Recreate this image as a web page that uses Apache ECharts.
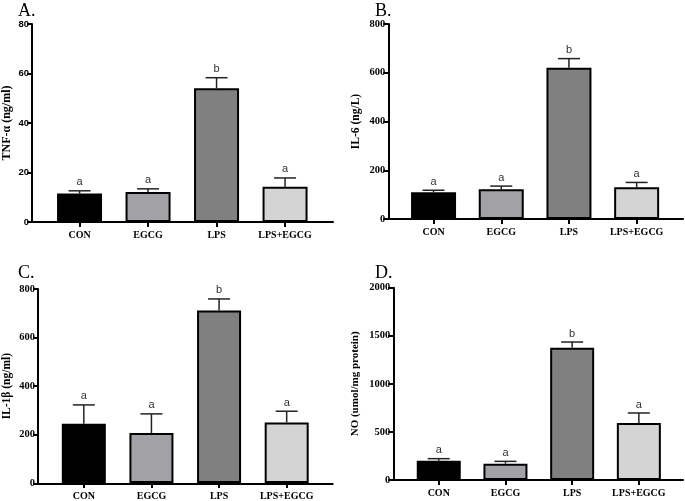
<!DOCTYPE html>
<html>
<head>
<meta charset="utf-8">
<script src="https://cdn.jsdelivr.net/npm/echarts@6/dist/echarts.min.js"></script>
<style>
html,body{margin:0;padding:0;background:#fff;}
#c{width:685px;height:501px;}
</style>
</head>
<body>
<div id="c"></div>
<script>
// ---- data ----
const categories = ['CON', 'EGCG', 'LPS', 'LPS+EGCG'];
const barColors = ['#000000', '#a2a2a6', '#808080', '#d4d4d4'];

const tnfMean = [11.5, 12.1, 54.0, 14.2];
const tnfErr = [1.1, 1.3, 4.3, 3.6];
const tnfLetters = ['a', 'a', 'b', 'a'];
const tnfTicks = { min: 0, max: 80, interval: 20 };

const il6Mean = [110, 122, 621, 130];
const il6Err = [8, 13, 37, 20];
const il6Letters = ['a', 'a', 'b', 'a'];
const il6Ticks = { min: 0, max: 800, interval: 200 };

const il1bMean = [244, 206, 711, 250];
const il1bErr = [78, 79, 48, 46];
const il1bLetters = ['a', 'a', 'b', 'a'];
const il1bTicks = { min: 0, max: 800, interval: 200 };

const noMean = [201, 170, 1376, 593];
const noErr = [21, 24, 59, 104];
const noLetters = ['a', 'a', 'b', 'a'];
const noTicks = { min: 0, max: 2000, interval: 500 };

const panelLabels = ['A.', 'B.', 'C.', 'D.'];
const yNames = ['TNF-\u03b1 (ng/ml)', 'IL-6 (ng/L)', 'IL-1\u03b2 (ng/ml)', 'NO (umol/mg protein)'];

// ---- layout (positions/styles) ----
const panels = [
  { mean: tnfMean, err: tnfErr, letters: tnfLetters, ticks: tnfTicks, name: yNames[0], label: panelLabels[0],
    axisX: 32, axisEnd: 333, top: 24, bottom: 222, bandLeft: 45.3, bandWidth: 274, barW: 45,
    tickFont: 'Liberation Sans', tickSize: 9.5, nameSize: 12, nameGap: 19, lx: 18, ly: 9 },
  { mean: il6Mean, err: il6Err, letters: il6Letters, ticks: il6Ticks, name: yNames[1], label: panelLabels[1],
    axisX: 388.3, axisEnd: 683, top: 24, bottom: 219, bandLeft: 399.7, bandWidth: 270.8, barW: 45,
    tickFont: 'Liberation Serif', tickSize: 10.5, nameSize: 11.5, nameGap: 26, lx: 375, ly: 9 },
  { mean: il1bMean, err: il1bErr, letters: il1bLetters, ticks: il1bTicks, name: yNames[2], label: panelLabels[2],
    axisX: 37.7, axisEnd: 332.7, top: 289, bottom: 483.3, bandLeft: 50, bandWidth: 270.5, barW: 44,
    tickFont: 'Liberation Serif', tickSize: 10.5, nameSize: 11.5, nameGap: 25, lx: 18, ly: 271 },
  { mean: noMean, err: noErr, letters: noLetters, ticks: noTicks, name: yNames[3], label: panelLabels[3],
    axisX: 393.3, axisEnd: 683, top: 287.7, bottom: 480, bandLeft: 405.4, bandWidth: 266.8, barW: 44,
    tickFont: 'Liberation Serif', tickSize: 10.5, nameSize: 11, nameGap: 33, lx: 375, ly: 271 }
];

const grid = [], xAxis = [], yAxis = [], series = [], graphic = [];

panels.forEach((p, i) => {
  const fi = i * 2, bi = i * 2 + 1;
  grid.push({ left: p.axisX, top: p.top, width: p.axisEnd - p.axisX, height: p.bottom - p.top });
  grid.push({ left: p.bandLeft, top: p.top, width: p.bandWidth, height: p.bottom - p.top });

  xAxis.push({
    type: 'value', gridIndex: fi, min: 0, max: 1,
    axisLine: { show: true, lineStyle: { color: '#000', width: 2 } },
    axisTick: { show: false }, axisLabel: { show: false }, splitLine: { show: false }
  });
  xAxis.push({
    type: 'category', gridIndex: bi, data: categories,
    axisLine: { show: false },
    axisTick: { show: true, alignWithLabel: true, length: 5, lineStyle: { color: '#000', width: 2 } },
    axisLabel: { margin: 8, color: '#000', fontFamily: 'Liberation Serif', fontWeight: 'bold', fontSize: 10, interval: 0 },
    splitLine: { show: false }
  });
  yAxis.push({
    type: 'value', gridIndex: fi, min: p.ticks.min, max: p.ticks.max, interval: p.ticks.interval,
    name: p.name, nameLocation: 'middle', nameGap: p.nameGap,
    nameTextStyle: { fontFamily: 'Liberation Serif', fontWeight: 'bold', fontSize: p.nameSize, color: '#000' },
    axisLine: { show: true, lineStyle: { color: '#000', width: 2 } },
    axisTick: { show: true, length: 5, lineStyle: { color: '#000', width: 2 } },
    axisLabel: { margin: 3, color: '#000', fontFamily: p.tickFont, fontWeight: 'bold', fontSize: p.tickSize,
      formatter: v => String(v) },
    splitLine: { show: false }
  });
  yAxis.push({
    type: 'value', gridIndex: bi, min: p.ticks.min, max: p.ticks.max, interval: p.ticks.interval,
    show: false, splitLine: { show: false }
  });

  series.push({
    type: 'bar', xAxisIndex: bi, yAxisIndex: bi, barWidth: p.barW,
    data: p.mean.map((v, k) => ({ value: v, itemStyle: { color: barColors[k] } })),
    itemStyle: { borderColor: '#000', borderWidth: 2 },
    z: 2
  });
  series.push({
    type: 'custom', xAxisIndex: bi, yAxisIndex: bi, z: 3,
    data: p.mean.map((v, k) => [k, v, p.err[k]]),
    renderItem: function (params, api) {
      const idx = api.value(0), m = api.value(1), e = api.value(2);
      const base = api.coord([idx, m]);
      const tp = api.coord([idx, m + e]);
      const half = 11;
      return {
        type: 'group',
        children: [
          { type: 'line', shape: { x1: tp[0], y1: base[1], x2: tp[0], y2: tp[1] }, style: { stroke: '#222', lineWidth: 1.5 } },
          { type: 'line', shape: { x1: tp[0] - half, y1: tp[1], x2: tp[0] + half, y2: tp[1] }, style: { stroke: '#222', lineWidth: 1.5 } },
          { type: 'text', x: tp[0], y: tp[1] - 3,
            style: { text: p.letters[params.dataIndex], fill: '#333', font: '11px "Liberation Sans"', textAlign: 'center', textVerticalAlign: 'bottom' } }
        ]
      };
    }
  });

  graphic.push({
    type: 'text', left: p.lx, top: p.ly - 7,
    style: { text: p.label, fill: '#000', font: '18px "Liberation Serif"' }
  });
});

const chart = echarts.init(document.getElementById('c'), null, { renderer: 'canvas' });
chart.setOption({
  animation: false,
  backgroundColor: '#fff',
  grid, xAxis, yAxis, series, graphic
});
</script>
</body>
</html>
